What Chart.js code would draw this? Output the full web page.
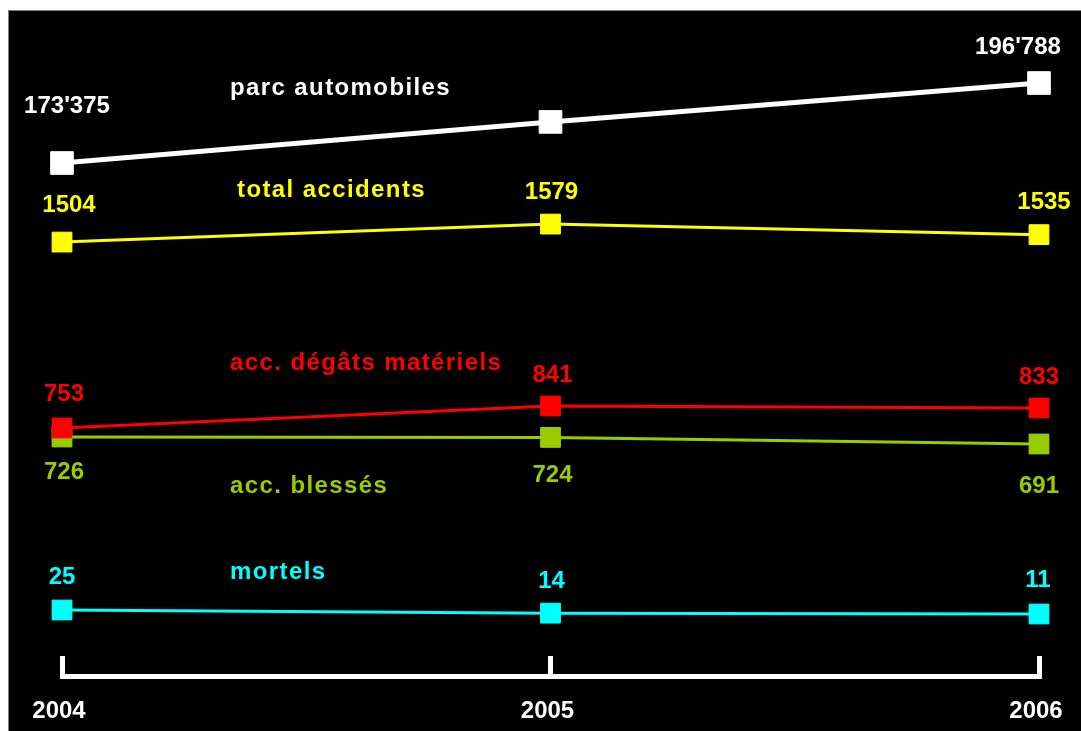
<!DOCTYPE html>
<html>
<head>
<meta charset="utf-8">
<script src="https://cdn.jsdelivr.net/npm/chart.js@4/dist/chart.umd.min.js"></script>
<style>
  html, body { margin: 0; padding: 0; background: #ffffff; }
  #c { display: block; }
</style>
</head>
<body>
<canvas id="c" width="1081" height="731"></canvas>
<script>
// ---- data ----
const years = ['2004', '2005', '2006'];
const parcAutomobiles = [173375, 185400, 196788];
const totalAccidents = [1504, 1579, 1535];
const accDegatsMateriels = [753, 841, 833];
const accBlesses = [726, 724, 691];
const mortels = [25, 14, 11];
const seriesNames = ['parc automobiles', 'total accidents', 'acc. dégâts matériels', 'acc. blessés', 'mortels'];

const FONT = "'Liberation Sans', Arial, sans-serif";

function fmtThousands(v) {
  return String(v).replace(/\B(?=(\d{3})+(?!\d))/g, "'");
}

const framePlugin = {
  id: 'frame',
  beforeDraw(chart) {
    const ctx = chart.ctx;
    ctx.save();
    ctx.fillStyle = '#ffffff';
    ctx.fillRect(0, 0, chart.width, chart.height);
    ctx.fillStyle = '#000000';
    ctx.fillRect(8, 10, chart.width - 8, chart.height - 10);
    ctx.fillStyle = '#808080';
    ctx.fillRect(8, 10, chart.width - 8, 1);
    ctx.fillRect(8, 10, 1, chart.height - 10);
    ctx.restore();
  }
};

const labelsPlugin = {
  id: 'valueLabels',
  afterDatasetsDraw(chart) {
    const ctx = chart.ctx;
    ctx.save();
    ctx.textAlign = 'center';
    ctx.textBaseline = 'middle';
    ctx.font = 'bold 24px ' + FONT;
    chart.data.datasets.forEach((ds, i) => {
      const meta = chart.getDatasetMeta(i);
      const cfg = ds.valueLabel;
      meta.data.forEach((pt, j) => {
        if (!cfg.show[j]) return;
        ctx.fillStyle = ds.borderColor;
        ctx.fillText(cfg.format(ds.data[j]), pt.x + cfg.dx[j], pt.y + cfg.dy[j]);
      });
    });
    // series names
    const opts = chart.options.plugins.valueLabels;
    ctx.textAlign = 'left';
    ctx.letterSpacing = '1.4px';
    chart.data.datasets.forEach((ds, i) => {
      const pos = opts.namePositions[i];
      ctx.fillStyle = ds.borderColor;
      ctx.fillText(ds.label, pos.x, pos.y);
    });
    ctx.restore();
  }
};

const plain = v => String(v);

new Chart(document.getElementById('c'), {
  type: 'line',
  data: {
    labels: years,
    datasets: [
      {
        label: seriesNames[0], data: parcAutomobiles, yAxisID: 'yParc',
        borderColor: '#ffffff', backgroundColor: '#ffffff', borderWidth: 5,
        pointStyle: 'rect', pointRadius: 16, pointBorderWidth: 1,
        valueLabel: { show: [true, false, true], dx: [5, 0, -21], dy: [-57, 0, -36], format: fmtThousands }
      },
      {
        label: seriesNames[1], data: totalAccidents, yAxisID: 'yTotal',
        borderColor: '#ffff00', backgroundColor: '#ffff00', borderWidth: 3,
        pointStyle: 'rect', pointRadius: 14, pointBorderWidth: 1,
        valueLabel: { show: [true, true, true], dx: [7, 1, 5], dy: [-37, -32, -32], format: plain }
      },
      {
        label: seriesNames[2], data: accDegatsMateriels, yAxisID: 'yDegats',
        borderColor: '#ff0000', backgroundColor: '#ff0000', borderWidth: 3,
        pointStyle: 'rect', pointRadius: 14, pointBorderWidth: 1,
        valueLabel: { show: [true, true, true], dx: [2, 2, 0], dy: [-34, -31, -31], format: plain }
      },
      {
        label: seriesNames[3], data: accBlesses, yAxisID: 'yBlesses',
        borderColor: '#99cc00', backgroundColor: '#99cc00', borderWidth: 3,
        pointStyle: 'rect', pointRadius: 14, pointBorderWidth: 1,
        valueLabel: { show: [true, true, true], dx: [2, 2, 0], dy: [35, 38, 42], format: plain }
      },
      {
        label: seriesNames[4], data: mortels, yAxisID: 'yMortels',
        borderColor: '#00ffff', backgroundColor: '#00ffff', borderWidth: 3,
        pointStyle: 'rect', pointRadius: 14, pointBorderWidth: 1,
        valueLabel: { show: [true, true, true], dx: [0, 1, -1], dy: [-33, -32, -34], format: plain }
      }
    ]
  },
  options: {
    responsive: false,
    animation: false,
    events: [],
    layout: { autoPadding: false, padding: { left: 62, right: 42, top: 10, bottom: 0 } },
    plugins: {
      legend: { display: false },
      title: { display: false },
      tooltip: { enabled: false },
      valueLabels: {
        namePositions: [
          { x: 230, y: 88 },
          { x: 237, y: 190 },
          { x: 230, y: 363 },
          { x: 230, y: 486 },
          { x: 230, y: 572 }
        ]
      }
    },
    scales: {
      x: {
        type: 'category',
        offset: false,
        grid: { display: true, drawOnChartArea: false, drawTicks: true, tickLength: -20, color: '#ffffff', lineWidth: 5 },
        border: { display: true, color: '#ffffff', width: 5 },
        ticks: { color: '#ffffff', font: { family: FONT, size: 24, weight: 'bold' }, padding: 41, labelOffset: -3, maxRotation: 0, autoSkip: false },
        afterFit: s => { s.height = 55; s.paddingLeft = 0; s.paddingRight = 0; }
      },
      yParc:    { display: false, min: 23239, max: 218153 },
      yTotal:   { display: false, min: -304, max: 2471 },
      yDegats:  { display: false, min: -239, max: 2425 },
      yBlesses: { display: false, min: -469, max: 2861 },
      yMortels: { display: false, min: -206, max: 2125 }
    }
  },
  plugins: [framePlugin, labelsPlugin]
});
</script>
</body>
</html>
